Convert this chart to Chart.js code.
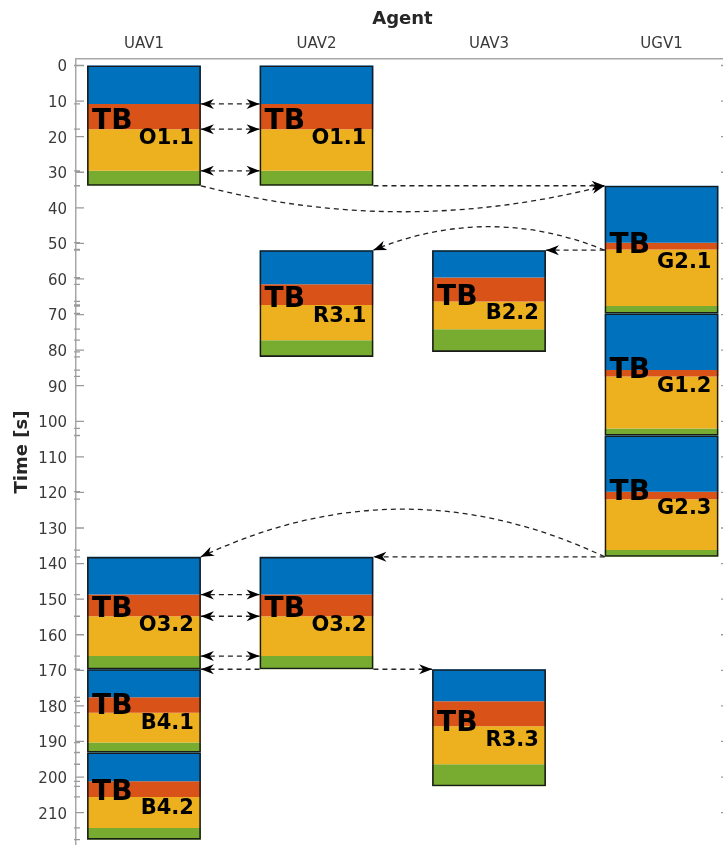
<!DOCTYPE html>
<html>
<head>
<meta charset="utf-8">
<script src="https://cdn.jsdelivr.net/npm/chart.js@4.4.1/dist/chart.umd.min.js"></script>
<style>
  html, body { margin: 0; padding: 0; background: #fff; overflow: hidden; }
  #wrap { width: 736px; height: 845px; }
</style>
</head>
<body>
<div id="wrap"><canvas id="ganttChart"></canvas></div>
<script>
const agents = ['UAV1', 'UAV2', 'UAV3', 'UGV1'];
const yTicks = [0, 10, 20, 30, 40, 50, 60, 70, 80, 90, 100, 110, 120, 130, 140, 150, 160, 170, 180, 190, 200, 210];

// one entry per task block (times in s)
const taskNames = ['O1.1', 'O1.1', 'G2.1', 'R3.1', 'B2.2', 'G1.2', 'G2.3', 'O3.2', 'O3.2', 'B4.1', 'B4.2', 'R3.3'];
const taskAgent = [0, 1, 3, 1, 2, 3, 3, 0, 1, 0, 0, 2];
const taskStart = [0, 0, 33.8, 51.9, 51.9, 69.7, 104.0, 138.1, 138.1, 169.7, 193.1, 169.7];
const blueEnd   = [10.8, 10.8, 49.8, 61.5, 59.6, 85.6, 119.8, 148.7, 148.7, 177.6, 201.2, 178.7];
const orangeEnd = [17.9, 17.9, 51.7, 67.3, 66.3, 87.4, 121.9, 154.8, 154.8, 181.9, 205.6, 185.7];
const yellowEnd = [29.6, 29.6, 67.6, 77.2, 74.1, 102.0, 136.2, 166.0, 166.0, 190.3, 214.3, 196.4];
const taskEnd   = [33.8, 33.8, 69.7, 81.9, 80.5, 104.0, 138.1, 169.7, 169.7, 193.1, 217.6, 202.6];

// dashed arrows (side: 1 = right edge of block, -1 = left edge)
const arrowFromAgent = [0, 0, 0, 0, 1, 3, 3, 3, 3, 0, 0, 0, 1, 1];
const arrowFromSide  = [1, 1, 1, 1, 1, -1, -1, -1, -1, 1, 1, 1, 1, -1];
const arrowToAgent   = [1, 1, 1, 3, 3, 2, 1, 1, 0, 1, 1, 1, 2, 0];
const arrowToSide    = [-1, -1, -1, -1, -1, 1, 1, 1, 1, -1, -1, -1, -1, 1];
const arrowTime      = [10.8, 17.9, 29.6, 33.8, 33.8, 51.9, 51.9, 138.1, 138.1, 148.7, 154.8, 166.0, 169.7, 169.7];
const arrowBend      = [0, 0, 0, 14.6, 0, 0, -13.2, 0, -26.8, 0, 0, 0, 0, 0];
const arrowTwoHeads  = [true, true, true, false, false, false, false, false, false, true, true, true, false, false];

const colBlue = '#0072BD';
const colOrange = '#D95319';
const colYellow = '#EDB120';
const colGreen = '#77AC30';

function segment(ends, starts) {
  return taskAgent.map(function (a, i) {
    return { x: a, y: [starts[i], ends[i]] };
  });
}

function drawHead(ctx, tipX, tipY, fromX, fromY) {
  const ang = Math.atan2(tipY - fromY, tipX - fromX);
  ctx.save();
  ctx.translate(tipX, tipY);
  ctx.rotate(ang);
  ctx.beginPath();
  ctx.moveTo(0, 0);
  ctx.lineTo(-13, -5);
  ctx.lineTo(-9, 0);
  ctx.lineTo(-13, 5);
  ctx.closePath();
  ctx.fill();
  ctx.restore();
}

const decorPlugin = {
  id: 'decor',
  afterDraw(chart) {
    const ctx = chart.ctx;
    const xs = chart.scales.x;
    const ys = chart.scales.y;
    const area = chart.chartArea;
    const bars = chart.getDatasetMeta(0).data;
    const half = bars[0].width / 2;

    // tick marks inside the axes
    ctx.save();
    ctx.strokeStyle = '#9a9a9a';
    ctx.lineWidth = 1.3;
    ctx.beginPath();
    yTicks.forEach(function (v) {
      const py = ys.getPixelForValue(v);
      ctx.moveTo(area.left, py); ctx.lineTo(area.left + 8, py);
      ctx.moveTo(area.right, py); ctx.lineTo(area.right - 8, py);
    });
    [taskStart, blueEnd, orangeEnd, yellowEnd, taskEnd].forEach(function (arr) {
      arr.forEach(function (v) {
        const py = ys.getPixelForValue(v);
        ctx.moveTo(area.left - 2, py); ctx.lineTo(area.left + 4, py);
      });
    });
    ctx.stroke();
    ctx.restore();

    // block labels
    ctx.save();
    ctx.fillStyle = '#000';
    ctx.textBaseline = 'alphabetic';
    bars.forEach(function (bar, i) {
      const cy = ys.getPixelForValue((taskStart[i] + taskEnd[i]) / 2);
      ctx.font = 'bold 28px "DejaVu Sans"';
      ctx.textAlign = 'left';
      ctx.fillText('TB', bar.x - half + 5, cy + 3.5);
      ctx.font = 'bold 21px "DejaVu Sans"';
      ctx.textAlign = 'right';
      ctx.fillText(taskNames[i], bar.x + half - 7, cy + 18);
    });
    ctx.restore();

    // dashed arrows
    ctx.save();
    ctx.strokeStyle = '#222';
    ctx.fillStyle = '#000';
    ctx.lineWidth = 1.3;
    arrowTime.forEach(function (t, i) {
      const x0 = xs.getPixelForValue(arrowFromAgent[i]) + arrowFromSide[i] * half;
      const x1 = xs.getPixelForValue(arrowToAgent[i]) + arrowToSide[i] * half;
      const y0 = ys.getPixelForValue(t);
      const cx = (x0 + x1) / 2;
      const cy = ys.getPixelForValue(t + arrowBend[i]);
      ctx.setLineDash([5, 4]);
      ctx.beginPath();
      ctx.moveTo(x0, y0);
      if (arrowBend[i] !== 0) {
        ctx.quadraticCurveTo(cx, cy, x1, y0);
      } else {
        ctx.lineTo(x1, y0);
      }
      ctx.stroke();
      ctx.setLineDash([]);
      if (arrowBend[i] !== 0) {
        drawHead(ctx, x1, y0, cx, cy);
      } else {
        drawHead(ctx, x1, y0, x0, y0);
        if (arrowTwoHeads[i]) drawHead(ctx, x0, y0, x1, y0);
      }
    });
    ctx.restore();
  }
};

new Chart(document.getElementById('ganttChart'), {
  type: 'bar',
  data: {
    datasets: [
      {
        label: 'block',
        data: segment(taskEnd, taskStart),
        backgroundColor: 'rgba(0,0,0,0)',
        borderColor: '#1a1a1a',
        borderWidth: 1.6,
        borderSkipped: false,
        order: 0
      },
      { label: 'blue', data: segment(blueEnd, taskStart), backgroundColor: colBlue, borderWidth: 0, order: 1 },
      { label: 'orange', data: segment(orangeEnd, blueEnd), backgroundColor: colOrange, borderWidth: 0, order: 1 },
      { label: 'yellow', data: segment(yellowEnd, orangeEnd), backgroundColor: colYellow, borderWidth: 0, order: 1 },
      { label: 'green', data: segment(taskEnd, yellowEnd), backgroundColor: colGreen, borderWidth: 0, order: 1 }
    ]
  },
  options: {
    responsive: true,
    maintainAspectRatio: false,
    animation: false,
    grouped: false,
    categoryPercentage: 1,
    barPercentage: 0.66,
    layout: { padding: { top: 0, left: 0, right: 7, bottom: 0 } },
    scales: {
      x: {
        type: 'linear',
        position: 'top',
        offset: false,
        min: -0.394,
        max: 3.391,
        afterBuildTicks: function (scale) {
          scale.ticks = agents.map(function (a, i) { return { value: i }; });
        },
        afterFit: function (scale) {
          scale.height = 59;
          scale.paddingLeft = 0;
          scale.paddingRight = 0;
        },
        ticks: {
          callback: function (v) { return agents[v]; },
          color: '#3a3a3a',
          font: { family: 'DejaVu Sans', size: 15 },
          padding: 6,
          maxRotation: 0
        },
        grid: { display: false, drawTicks: false },
        border: { display: true, color: '#a8a8a8', width: 1.5 },
        title: {
          display: true,
          text: 'Agent',
          color: '#262626',
          font: { family: 'DejaVu Sans', size: 18, weight: 'bold' },
          padding: { top: 9, bottom: 0 }
        }
      },
      y: {
        type: 'linear',
        reverse: true,
        offset: false,
        min: -1.83,
        max: 219.1,
        afterBuildTicks: function (scale) {
          scale.ticks = yTicks.map(function (v) { return { value: v }; });
        },
        afterFit: function (scale) {
          scale.width = 76;
          scale.paddingTop = 0;
          scale.paddingBottom = 0;
        },
        ticks: {
          color: '#3a3a3a',
          font: { family: 'DejaVu Sans', size: 15 },
          padding: 9,
          labelOffset: 2
        },
        grid: { display: false, drawTicks: false },
        border: { display: true, color: '#a8a8a8', width: 1.5 },
        title: {
          display: true,
          text: 'Time [s]',
          color: '#262626',
          font: { family: 'DejaVu Sans', size: 18, weight: 'bold' },
          padding: { top: 12, bottom: 0 }
        }
      }
    },
    plugins: {
      legend: { display: false },
      tooltip: { enabled: false }
    }
  },
  plugins: [decorPlugin]
});
</script>
</body>
</html>
